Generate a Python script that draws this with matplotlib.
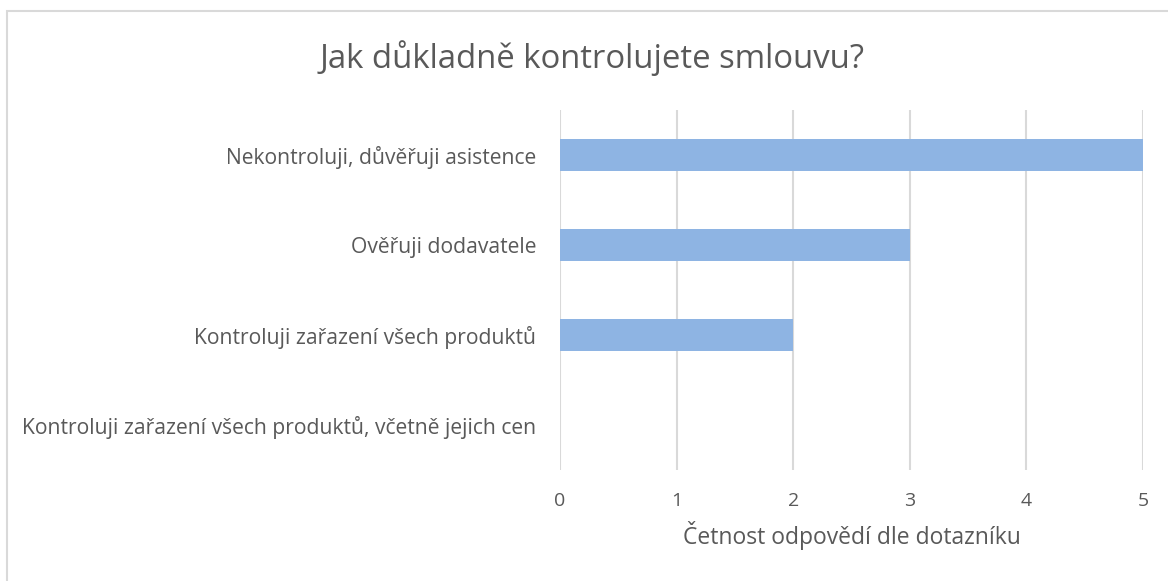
import matplotlib
matplotlib.use("Agg")
import matplotlib.pyplot as plt
from matplotlib.patches import Rectangle

plt.rcParams['font.family'] = ['Open Sans', 'DejaVu Sans']

categories = [
    "Nekontroluji, důvěřuji asistence",
    "Ověřuji dodavatele",
    "Kontroluji zařazení všech produktů",
    "Kontroluji zařazení všech produktů, včetně jejich cen",
]
values = [5, 3, 2, 0]
xticks = [0, 1, 2, 3, 4, 5]

txt = "#595959"
W, H = 1168, 581
fig = plt.figure(figsize=(W / 100, H / 100), dpi=100)

# outer chart border (runs off the right and bottom edges)
fig.patches.append(Rectangle((7 / W, -0.05), 1.1, 1 - 11 / H + 0.05,
                             transform=fig.transFigure, fill=False,
                             edgecolor="#D9D9D9", linewidth=1.5))

ax = fig.add_axes([560 / W, 1 - 470 / H, (1143 - 560) / W, 360 / H])
pos = list(range(len(categories)))
ax.barh(pos, values, height=0.35, color="#8EB4E3", linewidth=0, zorder=3)
ax.set_ylim(len(categories) - 0.5, -0.5)
ax.set_xlim(0, 5)
ax.set_xticks(xticks)
ax.set_yticks(pos)
ax.set_yticklabels(categories)
ax.grid(axis="x", color="#D9D9D9", linewidth=1.5, zorder=0)
for s in ax.spines.values():
    s.set_visible(False)
ax.tick_params(length=0, colors=txt)
ax.tick_params(axis="x", pad=16, labelsize=14)
ax.tick_params(axis="y", pad=17, labelsize=15.2)
ax.set_xlabel("Četnost odpovědí dle dotazníku", fontsize=16.5, color=txt, labelpad=8)

fig.text(592 / W, 1 - 58 / H, "Jak důkladně kontrolujete smlouvu?", ha="center",
         va="center", fontsize=23.7, color=txt)

fig.savefig("out.png", dpi=100)
